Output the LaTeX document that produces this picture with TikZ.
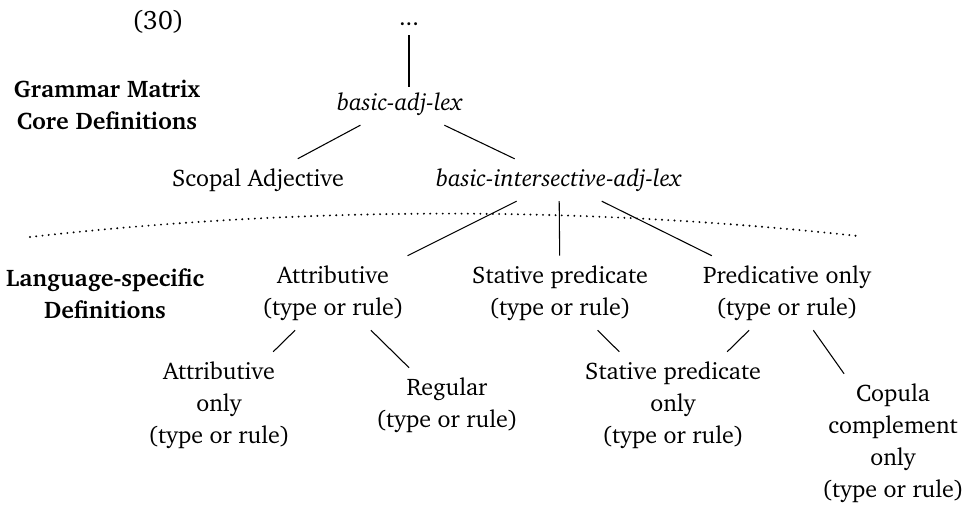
\documentclass[tikz,border=0pt]{standalone}
\usepackage[T1]{fontenc}
\usepackage{charter}
\usetikzlibrary{positioning}

\begin{document}
\begin{tikzpicture}[x=0.375pt,y=-0.375pt,
    every node/.style={font=\fontsize{9}{12}\selectfont},
    typ/.style={align=center, inner sep=3.5pt},
    hdr/.style={align=center, font=\fontsize{9}{12}\selectfont\bfseries},
    sep/.style={line width=.8pt, line cap=round, dash pattern=on 0pt off 2.35pt}]
  \useasboundingbox (0,0) rectangle (968,506);

    % example number and row headers
    \node[font=\fontsize{10}{12}\selectfont] (num) at (158,22) {(30)};
    \node[hdr] (core) at (107,105) {Grammar Matrix\\Core Definitions};
    \node[hdr] (lang) at (105,294) {Language-specific\\Definitions};

    % matrix core types
    \node[typ] (top) at (409,24) {...};
    \node[typ] (adj) at (400,104) {\textit{basic-adj-lex}};
    \node[typ] (scopal) at (258,180) {Scopal Adjective};
    \node[typ] (inter) at (559,180) {\textit{basic-intersective-adj-lex}};

    % dotted boundary between core and language-specific part
    \coordinate (dl) at (30,237);
    \coordinate (dr) at (858,236);
    \draw[sep] (dl) .. controls (306,206) and (582,206) .. (dr);

    % language-specific types
    \node[typ] (attr) at (333,293) {Attributive\\(type or rule)};
    \node[typ] (stat) at (560,293) {Stative predicate\\(type or rule)};
    \node[typ] (pred) at (787,293) {Predicative only\\(type or rule)};
    \node[typ] (attronly) at (219,405) {Attributive\\only\\(type or rule)};
    \node[typ] (regular) at (447,405) {Regular\\(type or rule)};
    \node[typ] (statonly) at (673,405) {Stative predicate\\only\\(type or rule)};
    \node[typ] (copula) at (893,443) {Copula\\complement\\only\\(type or rule)};

    % branches
    \draw (top) -- ([yshift=-1.5pt]top |- adj.north);
    \draw (adj) -- (scopal);
    \draw (adj) -- (inter);
    \draw (inter) -- (attr);
    \draw (inter) -- (stat);
    \draw (inter) -- (pred);
    \draw (attr) -- (attronly);
    \draw (attr) -- (regular);
    \draw (stat) -- (statonly);
    \draw (pred) -- (statonly);
    \draw (pred) -- (copula);
\end{tikzpicture}
\end{document}
